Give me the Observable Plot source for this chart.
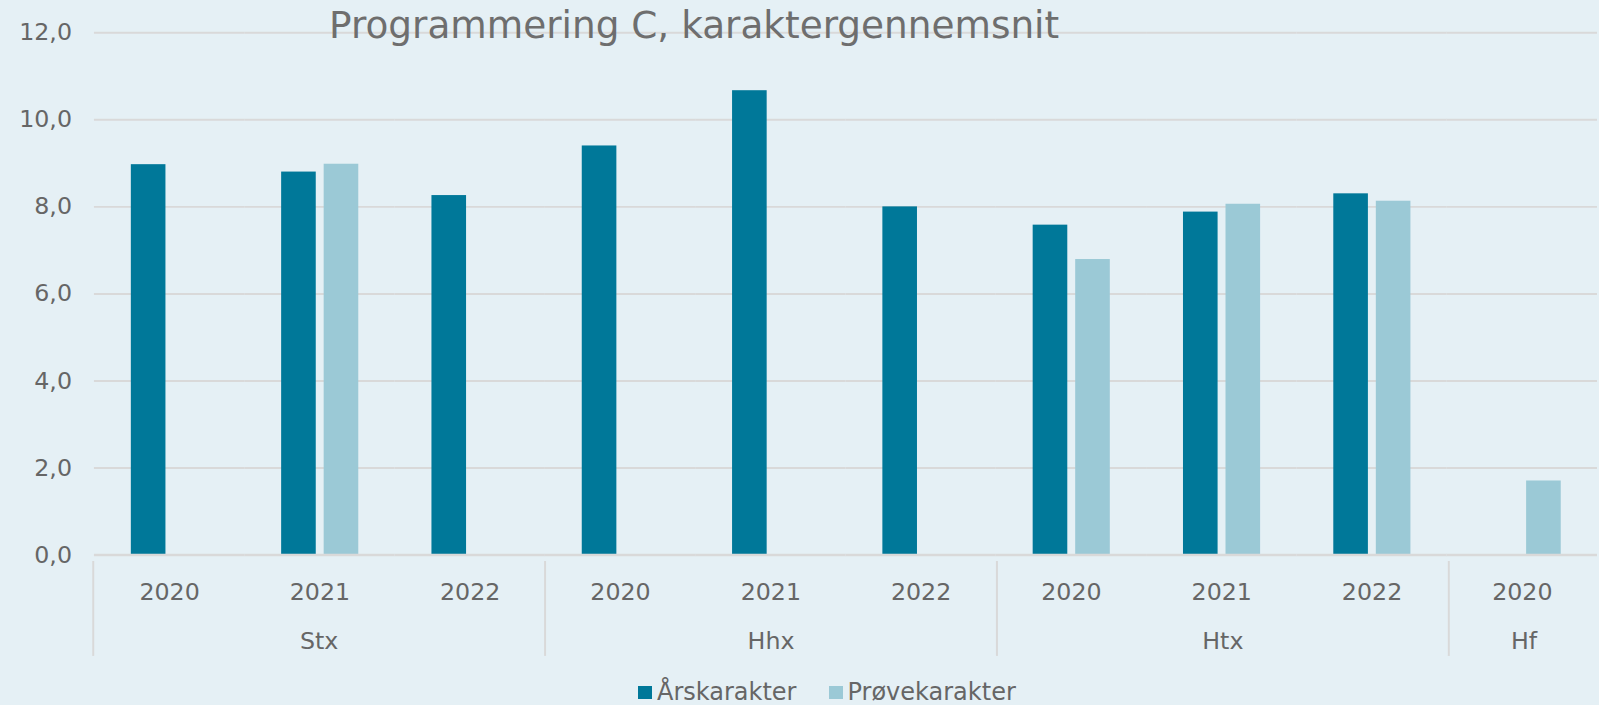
<!DOCTYPE html>
<html>
<head>
<meta charset="utf-8">
<script src="https://cdn.jsdelivr.net/npm/d3@7"></script>
<script src="https://cdn.jsdelivr.net/npm/@observablehq/plot@0.6"></script>
<style>
  html, body { margin: 0; padding: 0; overflow: hidden; background: #e5f0f5; }
  #wrap { position: relative; width: 1599px; height: 705px; overflow: hidden; background: #e5f0f5; font-family: "DejaVu Sans", Verdana, sans-serif; color: #666; }
  #main { position: absolute; left: 0; top: 0; }
  #groupAxis { position: absolute; left: 0; top: 561px; }
  #title { position: absolute; left: 329px; top: 7px; font-size: 37.4px; line-height: 37px; color: #6e6e6e; white-space: nowrap; }
  #legend { position: absolute; left: 638px; top: 680px; display: flex; align-items: center; font-size: 24px; line-height: 24px; color: #666; white-space: nowrap; }
  #legend .item { display: flex; align-items: center; margin-right: 32px; }
  #legend .sw { width: 14px; height: 13px; margin-right: 5px; }
</style>
</head>
<body>
<div id="wrap">
  <div id="main"></div>
  <div id="groupAxis"></div>
  <div id="title"></div>
  <div id="legend"></div>
</div>
<script>
// ---- data ----
const title = "Programmering C, karaktergennemsnit";
const groups = ["Stx", "Stx", "Stx", "Hhx", "Hhx", "Hhx", "Htx", "Htx", "Htx", "Hf"];
const years = ["2020", "2021", "2022", "2020", "2021", "2022", "2020", "2021", "2022", "2020"];
const seriesNames = ["Årskarakter", "Prøvekarakter"];
const arskarakter = [8.97, 8.80, 8.26, 9.40, 10.67, 8.00, 7.58, 7.88, 8.30, null];
const provekarakter = [null, 8.98, null, null, null, null, 6.79, 8.06, 8.13, 1.70];
const yTicks = [0, 2, 4, 6, 8, 10, 12];
const colors = ["#007899", "#9bc9d6"];

// ---- derived tables ----
const catKeys = groups.map((g, i) => g + "|" + years[i]);
const seriesValues = [arskarakter, provekarakter];
const rows = [];
catKeys.forEach((cat, i) => {
  seriesNames.forEach((s, j) => {
    const v = seriesValues[j][i];
    if (v != null) rows.push({cat, series: s, value: v});
  });
});
// group info (start index and size) for the lower-level axis
const groupInfo = [];
groups.forEach((g, i) => {
  const last = groupInfo[groupInfo.length - 1];
  if (last && last.name === g) last.count++;
  else groupInfo.push({name: g, start: i, count: 1});
});
groupInfo.forEach(d => d.mid = d.start + d.count / 2);

const gridColor = "#d9d9d9";
const fmt = d => d3.format(".1f")(d).replace(".", ",");

const W = 1617, ML = 93.7;

const main = Plot.plot({
  width: W,
  height: 620,
  marginLeft: ML,
  marginRight: 0,
  marginTop: 32.7,
  marginBottom: 59.3,
  style: {background: "transparent", fontFamily: "DejaVu Sans, Verdana, sans-serif", fontSize: "24px", color: "#666"},
  facet: {data: rows, x: "cat"},
  fx: {domain: catKeys, padding: 0, axis: "bottom", label: null, tickSize: 0, tickPadding: 29, tickFormat: d => d.split("|")[1]},
  x: {domain: seriesNames, paddingInner: 0.19, paddingOuter: 0.86, axis: null},
  y: {domain: [0, 12], ticks: yTicks, tickFormat: fmt, tickSize: 0, tickPadding: 22.7, label: null},
  color: {domain: seriesNames, range: colors},
  marks: [
    Plot.ruleY(yTicks.filter(d => d > 0), {stroke: gridColor, strokeWidth: 2}),
    Plot.barY(rows, {x: "series", y: "value", fill: "series"}),
    Plot.ruleY([0], {stroke: gridColor, strokeWidth: 2.5})
  ]
});
document.getElementById("main").appendChild(main);

const groupAxis = Plot.plot({
  width: W,
  height: 96,
  marginLeft: ML,
  marginRight: 0,
  marginTop: 0,
  marginBottom: 0,
  style: {background: "transparent", fontFamily: "DejaVu Sans, Verdana, sans-serif", fontSize: "24px", color: "#666"},
  x: {domain: [0, groups.length], axis: null},
  marks: [
    Plot.ruleX(groupInfo, {x: "start", stroke: gridColor, strokeWidth: 2}),
    Plot.text(groupInfo, {x: "mid", text: "name", frameAnchor: "bottom", dy: -7, fill: "#666"})
  ]
});
document.getElementById("groupAxis").appendChild(groupAxis);

document.getElementById("title").textContent = title;

const legend = document.getElementById("legend");
seriesNames.forEach((s, i) => {
  const item = document.createElement("div");
  item.className = "item";
  const sw = document.createElement("div");
  sw.className = "sw";
  sw.style.background = colors[i];
  const lab = document.createElement("span");
  lab.textContent = s;
  item.appendChild(sw);
  item.appendChild(lab);
  legend.appendChild(item);
});
</script>
</body>
</html>
